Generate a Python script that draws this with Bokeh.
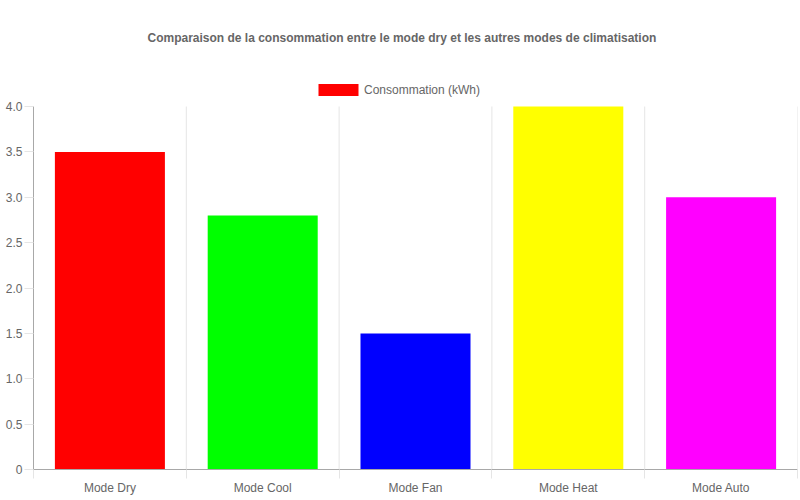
from bokeh.plotting import figure
from bokeh.models import (ColumnDataSource, FixedTicker, LinearAxis, Range1d,
                          Legend, LegendItem, Title, NumeralTickFormatter)
from bokeh.embed import file_html
from bokeh.resources import INLINE

# ---- data ----
categories = ["Mode Dry", "Mode Cool", "Mode Fan", "Mode Heat", "Mode Auto"]
consumption = [3.5, 2.8, 1.5, 4.0, 3.0]
colors = ["#ff0000", "#00ff00", "#0000ff", "#ffff00", "#ff00ff"]
y_ticks = [0, 0.5, 1.0, 1.5, 2.0, 2.5, 3.0, 3.5, 4.0]
y_max = 4.0
title_text = "Comparaison de la consommation entre le mode dry et les autres modes de climatisation"
series_label = "Consommation (kWh)"

FONT = "Liberation Sans"
TXT = "#666666"
GRID = "#e5e5e5"
AXIS = "#a8a8a8"

n = len(categories)
centers = [i + 0.5 for i in range(n)]
bounds_x = list(range(n + 1))
source = ColumnDataSource(dict(x=centers, top=consumption, color=colors, cat=categories))

# layout in pixels
TOP = 52               # frame top (title sits above it)
FRAME_H = 417          # frame height (includes room for the legend above the 4.0 line)
HEADROOM = 54          # px between frame top and the 4.0 grid line
y_top = y_max * FRAME_H / (FRAME_H - HEADROOM)

p = figure(width=798, height=497, output_backend="svg", toolbar_location=None,
           x_range=Range1d(0, n), y_range=Range1d(0, y_top),
           x_axis_type=None, y_axis_type=None,
           min_border_left=33, min_border_right=1, min_border_bottom=28,
           min_border_top=TOP)
p.outline_line_color = None
p.background_fill_color = "white"
p.border_fill_color = "white"

# vertical grid lines between categories, limited to the value range
p.segment(x0=bounds_x, y0=[0] * len(bounds_x), x1=bounds_x, y1=[y_max] * len(bounds_x),
          line_color=GRID, line_width=1, level="underlay")

r = p.vbar(x="x", top="top", width=0.72, bottom=0, fill_color="color",
           line_color=None, source=source)

# x axis
xaxis = LinearAxis(ticker=FixedTicker(ticks=centers, minor_ticks=bounds_x))
xaxis.major_label_overrides = {c: lab for c, lab in zip(centers, categories)}
xaxis.major_tick_out = 0
xaxis.major_tick_in = 0
xaxis.minor_tick_out = 9
xaxis.minor_tick_in = 0
xaxis.minor_tick_line_color = GRID
xaxis.axis_line_color = AXIS
xaxis.major_label_standoff = 2
xaxis.major_label_text_font = FONT
xaxis.major_label_text_font_size = "12px"
xaxis.major_label_text_color = TXT
p.add_layout(xaxis, "below")

# y axis
yaxis = LinearAxis(ticker=FixedTicker(ticks=y_ticks, minor_ticks=[]), bounds=(0, y_max))
yaxis.formatter = NumeralTickFormatter(format="0.0")
yaxis.major_label_overrides = {0: "0"}
yaxis.major_tick_out = 9
yaxis.major_tick_in = 0
yaxis.major_tick_line_color = GRID
yaxis.axis_line_color = AXIS
yaxis.major_label_standoff = 2
yaxis.major_label_text_font = FONT
yaxis.major_label_text_font_size = "12px"
yaxis.major_label_text_color = TXT
p.add_layout(yaxis, "left")

p.xgrid.visible = False
p.ygrid.ticker = FixedTicker(ticks=y_ticks)
p.ygrid.grid_line_color = GRID

legend = Legend(items=[LegendItem(label=series_label, renderers=[r], index=0)],
                orientation="horizontal", location=(280, 372),
                glyph_width=50, glyph_height=15, label_standoff=1,
                label_text_font=FONT, label_text_font_size="12px",
                label_text_color=TXT, border_line_color=None,
                background_fill_alpha=0, padding=0, margin=0, spacing=0,
                label_height=15)
p.add_layout(legend)

# title centred on the whole canvas (not on the frame): left-aligned with an offset
p.title = Title(text=title_text, align="left", text_font=FONT,
                text_font_size="12px", text_font_style="bold",
                text_color=TXT, standoff=16, offset=114)

open("out.html", "w").write(file_html(p, INLINE))
